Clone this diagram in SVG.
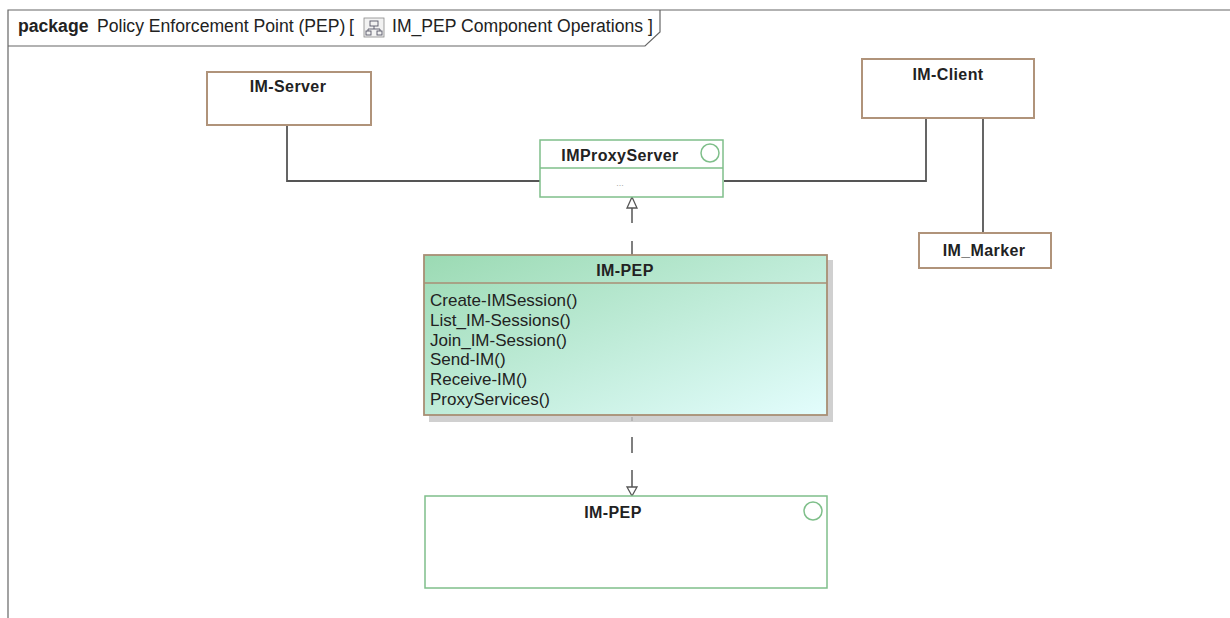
<svg xmlns="http://www.w3.org/2000/svg" width="1230" height="618" viewBox="0 0 1230 618">
<defs>
<style>
.frame{fill:none;stroke:#666;stroke-width:1.2}
.cls{fill:#fff;stroke:#b0937a;stroke-width:2}
.ifc{fill:#fff;stroke:#7fbf8a;stroke-width:1.5}
.lbl{font-family:"Liberation Sans",Arial,sans-serif;font-size:16px;font-weight:bold;fill:#222;text-anchor:middle;letter-spacing:0.4px}
.op{font-family:"Liberation Sans",Arial,sans-serif;font-size:17px;fill:#222;letter-spacing:0px}
.hdr{font-family:"Liberation Sans",Arial,sans-serif;font-size:17.6px;fill:#222}
.conn{fill:none;stroke:#555;stroke-width:1.8}
.dash{fill:none;stroke:#555;stroke-width:1.5}
.tri{fill:#fff;stroke:#555;stroke-width:1.3}
</style>
<linearGradient id="pepg" x1="0" y1="0" x2="1" y2="1">
<stop offset="0" stop-color="#9bdab3"/>
<stop offset="1" stop-color="#e3fdfd"/>
</linearGradient>
</defs>
<rect width="1230" height="618" fill="#fff"/>
<g id="frame">
<path class="frame" d="M8,618 V10 H1230"/>
<path class="frame" d="M8,46 H645 L660,32 V10"/>
<text class="hdr" x="18" y="32" font-weight="bold">package</text>
<text class="hdr" x="97" y="32">Policy Enforcement Point (PEP)</text>
<text class="hdr" x="349" y="32">[</text>
<rect x="364" y="18" width="20" height="19" fill="#f2f2f2" stroke="#888" stroke-width="0.8"/>
<rect x="370" y="21" width="8" height="5" fill="none" stroke="#556" stroke-width="0.9"/>
<path d="M374,26 V29 M368,29 H380 M368,29 V31 M380,29 V31" stroke="#556" stroke-width="0.9" fill="none"/>
<rect x="366" y="31" width="5" height="4" fill="none" stroke="#556" stroke-width="0.9"/>
<rect x="377" y="31" width="5" height="4" fill="none" stroke="#556" stroke-width="0.9"/>
<text class="hdr" x="392" y="32">IM_PEP Component Operations ]</text>
</g>
<g id="connectors">
<path class="conn" d="M287,125 V181 H540"/>
<path class="conn" d="M724,181 H926 V118"/>
<path class="conn" d="M983,118 V233"/>
<path class="dash" d="M632,255 V241 M632,223 V208"/>
<path class="tri" d="M632,197 L627,208 H637 Z"/>
<path class="dash" d="M632,417 V421 M632,437 V453 M632,470 V487"/>
<path class="tri" d="M632,496 L627,487 H637 Z"/>
</g>
<g id="im-server">
<rect class="cls" x="207" y="72" width="164" height="53"/>
<text class="lbl" x="288" y="92">IM-Server</text>
</g>
<g id="im-client">
<rect class="cls" x="862" y="59" width="172" height="59"/>
<text class="lbl" x="948" y="80">IM-Client</text>
</g>
<g id="im-marker">
<rect class="cls" x="919" y="233" width="132" height="35"/>
<text class="lbl" x="984" y="256">IM_Marker</text>
</g>
<g id="improxyserver">
<rect class="ifc" x="540" y="140" width="183" height="57"/>
<line x1="540" y1="168" x2="723" y2="168" stroke="#7fbf8a" stroke-width="1.5"/>
<text class="lbl" x="620" y="161" letter-spacing="0">IMProxyServer</text>
<circle cx="710" cy="153" r="9" fill="none" stroke="#7fbf8a" stroke-width="1.5"/>
<text x="620" y="186" font-family="Liberation Sans,Arial,sans-serif" font-size="9" fill="#aaa" text-anchor="middle">...</text>
</g>
<g id="im-pep-class">
<rect x="429" y="260" width="404" height="162" fill="#c4c4c4" opacity="0.8"/>
<rect x="424" y="255" width="403" height="160" fill="url(#pepg)" stroke="#a88e74" stroke-width="1.8"/>
<line x1="424" y1="283" x2="827" y2="283" stroke="#a88e74" stroke-width="1.5"/>
<text class="lbl" x="625" y="276" letter-spacing="0">IM-PEP</text>
<text class="op" x="430" y="306">Create-IMSession()</text>
<text class="op" x="430" y="326">List_IM-Sessions()</text>
<text class="op" x="430" y="346">Join_IM-Session()</text>
<text class="op" x="430" y="365">Send-IM()</text>
<text class="op" x="430" y="385">Receive-IM()</text>
<text class="op" x="430" y="405">ProxyServices()</text>
</g>
<g id="im-pep-interface">
<rect class="ifc" x="425" y="496" width="402" height="92"/>
<text class="lbl" x="613" y="518" letter-spacing="0">IM-PEP</text>
<circle cx="813" cy="511" r="9" fill="none" stroke="#7fbf8a" stroke-width="1.5"/>
</g>
</svg>
